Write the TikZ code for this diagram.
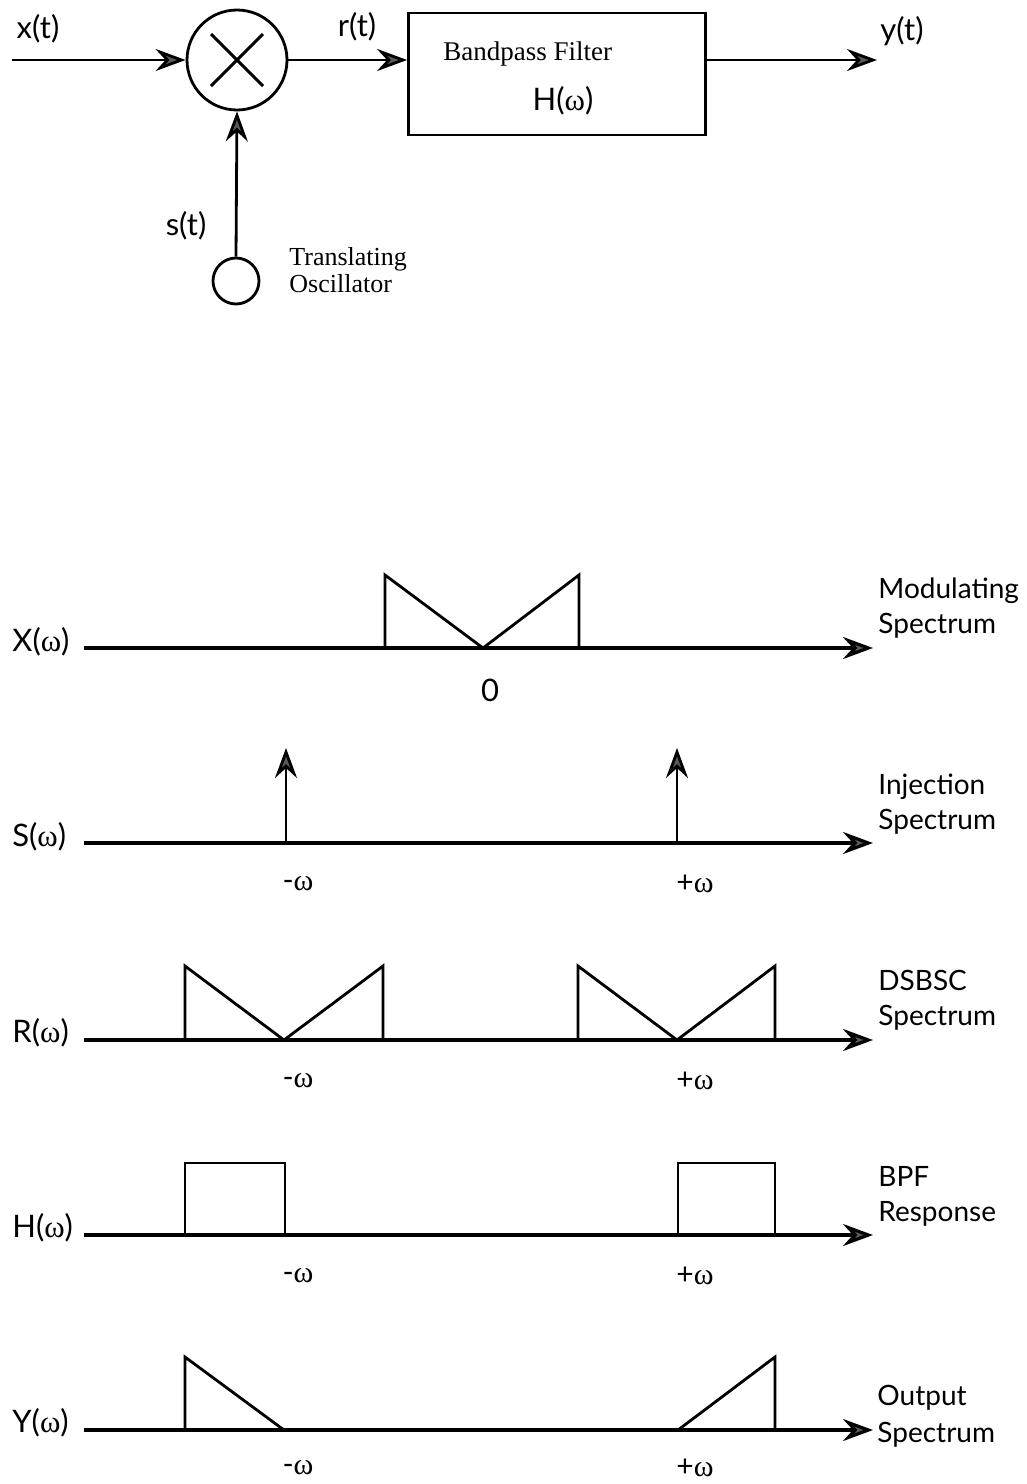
\documentclass[tikz,border=0pt]{standalone}
\usepackage{fontspec}
\setmainfont{Liberation Serif}
\newfontfamily\labfont{Lato}
\usetikzlibrary{arrows.meta}
\newcommand\om{{\rmfamily ω}}
\begin{document}
\begin{tikzpicture}[x=1pt,y=-1pt,
  line width=2.8pt,
  arr/.style={-{Stealth[length=30pt,width=22pt,inset=10pt,fill=black!65]}},
  lab/.style={font=\labfont\fontsize{31}{34}\selectfont, inner sep=0pt},
  om/.style={font=\labfont\fontsize{30}{32}\selectfont, inner sep=0pt},
  side/.style={font=\labfont\fontsize{28}{34}\selectfont, anchor=base west, inner sep=0pt},
  ser/.style={font=\fontsize{27}{30}\selectfont, inner sep=0pt, anchor=base west},
  axisline/.style={line width=3.2pt},
  spec/.style={line width=2.8pt, line join=miter}]
\useasboundingbox (0,0) rectangle (1026,1484);

% ---------- block diagram ----------
\node[draw, circle, minimum size=100pt, inner sep=0pt] (mult) at (237,60) {};
\draw[line width=3pt] ([shift={(-26,-26)}]mult.center) -- ([shift={(26,26)}]mult.center)
      ([shift={(26,-26)}]mult.center) -- ([shift={(-26,26)}]mult.center);
\node[draw, rectangle, minimum width=297pt, minimum height=122pt, inner sep=0pt] (bpf) at (557,74) {};
\node[ser] (bpft) at (442,60) {Bandpass Filter};
\node[lab] (hw) at (563,101) {H(\om)};
\node[draw, circle, minimum size=46pt, inner sep=0pt] (osc) at (236,281) {};

\coordinate (xin) at (12,60);
\coordinate (yout) at (877,60);
\draw[arr] (xin) -- (mult.west);
\draw[arr] (mult.east) -- (bpf.west |- mult.east);
\draw[arr] (bpf.east |- mult.east) -- (yout);
\draw[arr] (osc.north) -- (mult.south);

\node[lab] (xt) at (38,29) {x(t)};
\node[lab] (rt) at (357,27) {r(t)};
\node[lab] (yt) at (902,31) {y(t)};
\node[lab] (st) at (186,226) {s(t)};
\node[ser, font=\fontsize{26}{28}\selectfont] (tr1) at (288,265) {Translating};
\node[ser, font=\fontsize{26}{28}\selectfont] (tr2) at (288,292) {Oscillator};

% ---------- spectra ----------
% X
\coordinate (xa) at (84,648); \coordinate (xb) at (873,648);
\draw[axisline, arr] (xa) -- (xb);
\node[lab, anchor=west] (xl) at (11,642) {X(\om)};
\draw[spec] (385,648) -- (385,575) -- (483,648) -- (579,575) -- (579,648);
\node[lab] (x0) at (490,690) {0};
\node[side] (xs1) at (877,598) {Modulating};
\node[side] (xs2) at (877,633) {Spectrum};

% S
\coordinate (sa) at (84,843); \coordinate (sb) at (873,843);
\draw[axisline, arr] (sa) -- (sb);
\node[lab, anchor=west] (sl) at (11,837) {S(\om)};
\coordinate (s1) at (286,843); \coordinate (s1t) at (286,748);
\coordinate (s2) at (677,843); \coordinate (s2t) at (677,748);
\draw[arr] (s1) -- (s1t);
\draw[arr] (s2) -- (s2t);
\node[om] (sm) at (298,884) {-\om};
\node[om] (sp) at (695,884) {+\om};
\node[side] (ss1) at (877,794) {Injection};
\node[side] (ss2) at (877,829) {Spectrum};

% R
\coordinate (ra) at (84,1040); \coordinate (rb) at (873,1040);
\draw[axisline, arr] (ra) -- (rb);
\node[lab, anchor=west] (rl) at (11,1033) {R(\om)};
\draw[spec] (185,1040) -- (185,966) -- (284,1040) -- (383,966) -- (383,1040);
\draw[spec] (578,1040) -- (578,966) -- (677,1040) -- (775,966) -- (775,1040);
\node[om] (rm) at (298,1081) {-\om};
\node[om] (rp) at (695,1081) {+\om};
\node[side] (rs1) at (877,990) {DSBSC};
\node[side] (rs2) at (877,1025) {Spectrum};

% H
\coordinate (ha) at (84,1235); \coordinate (hb) at (873,1235);
\draw[axisline, arr] (ha) -- (hb);
\node[lab, anchor=west] (hl) at (11,1228) {H(\om)};
\draw[spec] (185,1235) -- (185,1163) -- (285,1163) -- (285,1235);
\draw[spec] (678,1235) -- (678,1163) -- (775,1163) -- (775,1235);
\node[om] (hm) at (298,1276) {-\om};
\node[om] (hp) at (695,1276) {+\om};
\node[side] (hs1) at (877,1186) {BPF};
\node[side] (hs2) at (877,1221) {Response};

% Y
\coordinate (ya) at (84,1430); \coordinate (yb) at (873,1430);
\draw[axisline, arr] (ya) -- (yb);
\node[lab, anchor=west] (yl) at (11,1423) {Y(\om)};
\draw[spec] (185,1430) -- (185,1357) -- (284,1430);
\draw[spec] (678,1430) -- (775,1357) -- (775,1430);
\node[om] (ym) at (298,1468) {-\om};
\node[om] (yp) at (695,1468) {+\om};
\node[side] (ys1) at (876,1405) {Output};
\node[side] (ys2) at (876,1442) {Spectrum};
\end{tikzpicture}
\end{document}
